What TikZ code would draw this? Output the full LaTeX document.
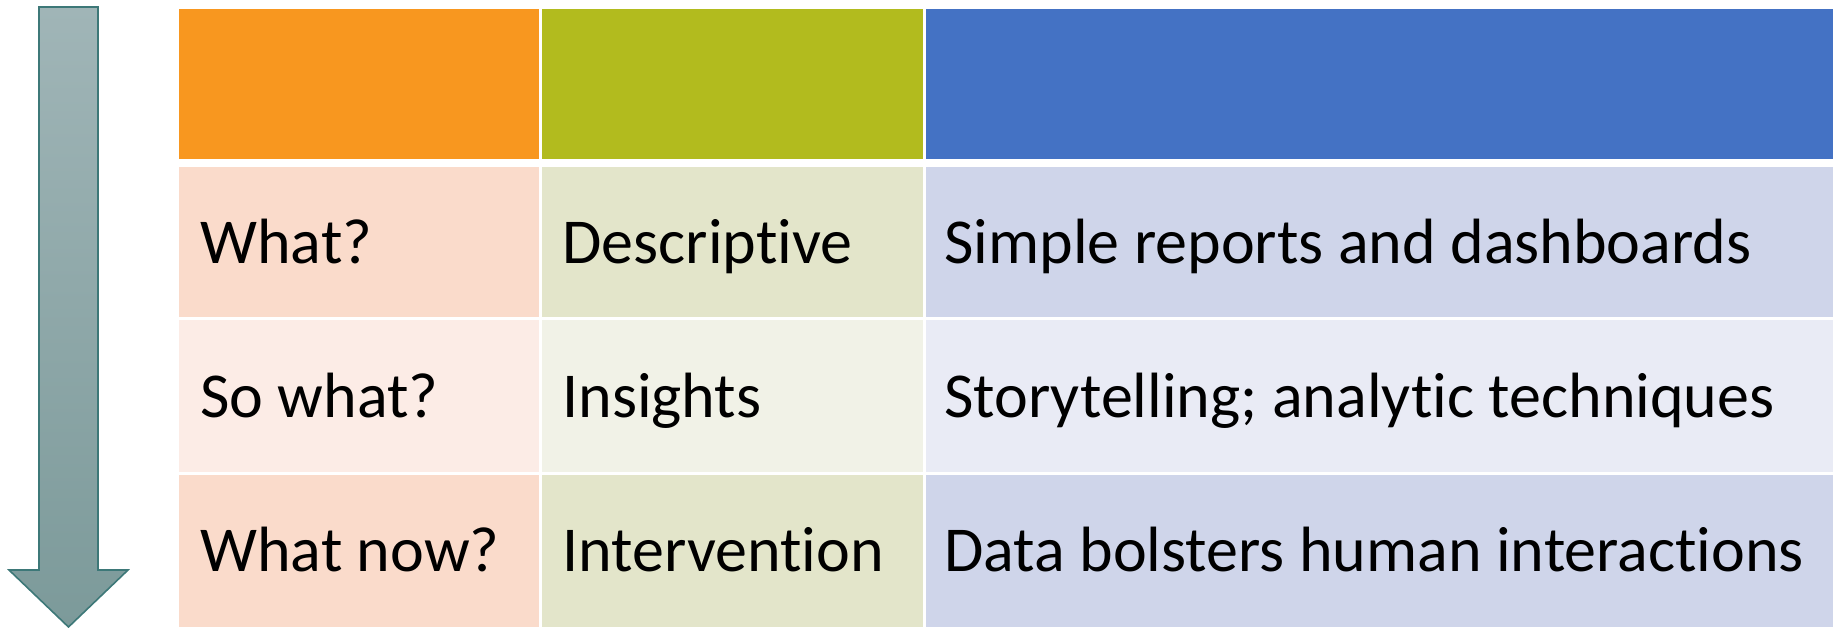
\documentclass[tikz,border=0pt]{standalone}
\usepackage{fontspec}
\setmainfont[Ligatures=NoCommon]{Carlito}
\usetikzlibrary{calc}
\definecolor{hdorange}{HTML}{F8971F}
\definecolor{hdgreen}{HTML}{B2BB1E}
\definecolor{hdblue}{HTML}{4472C4}
\definecolor{ltorange}{HTML}{FADBCB}
\definecolor{ltgreen}{HTML}{E3E5CA}
\definecolor{ltblue}{HTML}{CFD5EA}
\definecolor{pforange}{HTML}{FCECE6}
\definecolor{pfgreen}{HTML}{F1F2E7}
\definecolor{pfblue}{HTML}{E9EBF5}
\definecolor{arrowtop}{HTML}{A0B5B7}
\definecolor{arrowbot}{HTML}{7C9A9A}
\definecolor{arrowline}{HTML}{3D7878}
\tikzset{celltext/.style={anchor=base west,inner sep=0pt,font=\fontsize{32}{38}\selectfont}}

\begin{document}
\begin{tikzpicture}[x=0.5pt,y=-0.5pt]
\useasboundingbox (0,0) rectangle (1837,627);
% the down arrow on the left
\coordinate (top) at (68.5,7);
\coordinate (tip) at (68.5,627);
\shade[top color=arrowtop,bottom color=arrowbot,draw=arrowline,line width=0.8pt]
  (39,7) -- (98,7) -- (98,570) -- (128,570) -- (tip) -- (9,570) -- (39,570) -- cycle;
%Header row:
\fill[hdorange] (179,9) rectangle (539,159);
\fill[hdgreen] (542,9) rectangle (923,159);
\fill[hdblue] (926,9) rectangle (1833,159);
%Body rows (first and third darker):
\fill[ltorange] (179,167) rectangle (539,317);
\fill[ltgreen] (542,167) rectangle (923,317);
\fill[ltblue] (926,167) rectangle (1833,317);
\fill[pforange] (179,320) rectangle (539,472);
\fill[pfgreen] (542,320) rectangle (923,472);
\fill[pfblue] (926,320) rectangle (1833,472);
\fill[ltorange] (179,475) rectangle (539,627);
\fill[ltgreen] (542,475) rectangle (923,627);
\fill[ltblue] (926,475) rectangle (1833,627);
%Texts:
\node[celltext] (q1) at (200,263) {What?};
\node[celltext] (k1) at (562,263) {Descriptive};
\node[celltext] (d1) at (944,263) {Simple reports and dashboards};
\node[celltext] (q2) at (200,417) {So what?};
\node[celltext] (k2) at (562,417) {Insights};
\node[celltext] (d2) at (944,417) {Storytelling; analytic techniques};
\node[celltext] (q3) at (200,571) {What now?};
\node[celltext] (k3) at (562,571) {Intervention};
\node[celltext] (d3) at (944,571) {Data bolsters human interactions};
\end{tikzpicture}
\end{document}
